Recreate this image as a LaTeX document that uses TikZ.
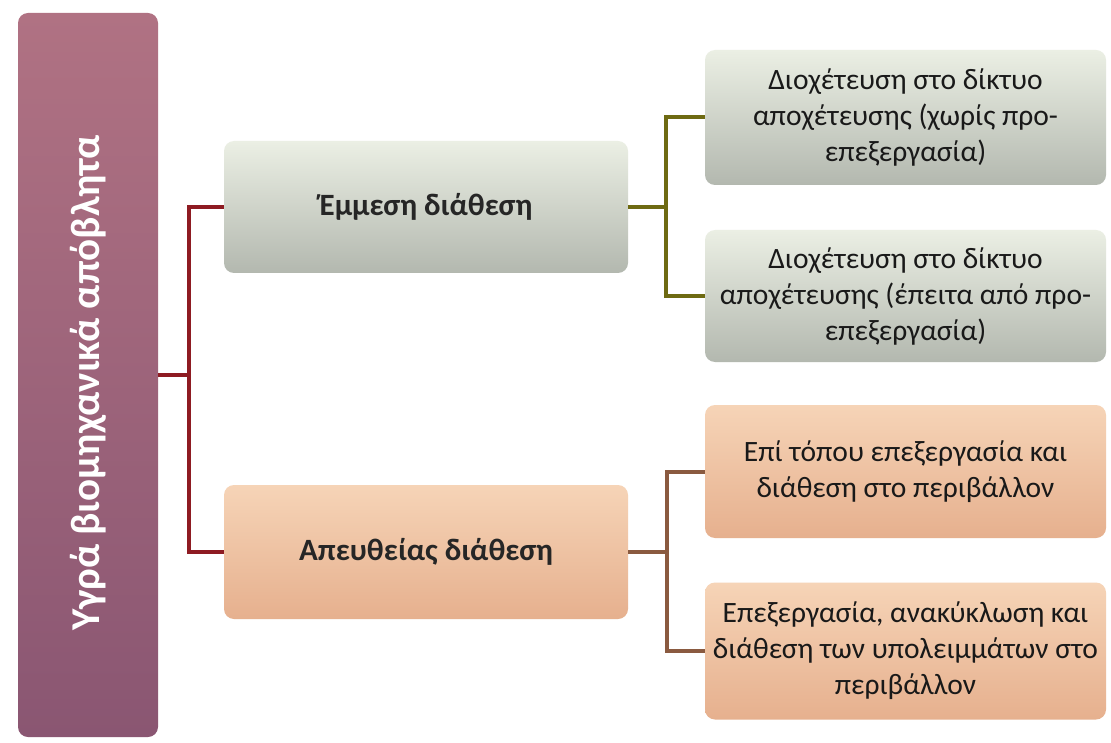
\documentclass[tikz,border=0pt]{standalone}
\usepackage{fontspec}
\setmainfont{Carlito}
\usetikzlibrary{positioning}

\definecolor{rodotop}{HTML}{B07283}
\definecolor{rodobot}{HTML}{8A5672}
\definecolor{grizotop}{HTML}{EBEFE4}
\definecolor{grizobot}{HTML}{B3B8AF}
\definecolor{rodakinotop}{HTML}{F6D4B7}
\definecolor{rodakinobot}{HTML}{E6B08E}
\definecolor{kokkino}{HTML}{8E1B22}
\definecolor{ladi}{HTML}{6E6A12}
\definecolor{kafe}{HTML}{8A5A40}

\begin{document}
\begin{tikzpicture}[
x=1pt, y=-1pt,
  riza/.style = {rectangle, rounded corners=10pt, inner sep=0pt,
                 top color=rodotop, bottom color=rodobot, text=white,
                 minimum width=724pt, minimum height=140pt,
                 font=\fontsize{41}{48}\selectfont\bfseries},
  kladi/.style = {rectangle, rounded corners=10pt, inner sep=0pt,
                 minimum width=404pt, minimum height=132pt,
                 text=black!85, font=\fontsize{31}{38}\selectfont\bfseries},
  fyllo/.style = {rectangle, rounded corners=10pt, inner sep=0pt,
                 minimum width=401pt, align=center, text=black!90,
                 font=\fontsize{29.5}{36}\selectfont},
   gri/.style = {top color=grizotop, bottom color=grizobot},
   ros/.style = {top color=rodakinotop, bottom color=rodakinobot},
   syn/.style = {draw=#1, line width=4pt}
                    ]
\fill[white] (0,0) rectangle (1111,743);

%nodes
\node[riza, rotate=90] (apov) at (88,375) {Υγρά βιομηχανικά απόβλητα\hspace*{16pt}};

\node[kladi,gri] (emmesi) at (426,207) {Έμμεση διάθεση};
\node[kladi,ros,minimum height=134pt] (apeft) at (426,552) {Απευθείας διάθεση};

\node[fyllo,gri,minimum height=135pt] (dx) at (905.5,117.5)
  {Διοχέτευση στο δίκτυο\\αποχέτευσης (χωρίς προ-\\επεξεργασία)};
\node[fyllo,gri,minimum height=132pt] (dm) at (905.5,296)
  {Διοχέτευση στο δίκτυο\\αποχέτευσης (έπειτα από προ-\\επεξεργασία)};
\node[fyllo,ros,minimum height=133pt] (topos) at (905.5,471.5)
  {Επί τόπου επεξεργασία και\\διάθεση στο περιβάλλον};
\node[fyllo,ros,minimum height=137pt] (anak) at (905.5,651)
  {Επεξεργασία, ανακύκλωση και\\διάθεση των υπολειμμάτων στο\\περιβάλλον};

% edges
\draw[syn=kokkino] (apov.south) -- ++(31,0) coordinate (k1)
  (k1) |- (emmesi.west)
  (k1) |- (apeft.west);

\draw[syn=ladi] (emmesi.east) -- ++(38,0) coordinate (k2)
  (k2) |- (dx.west)
  (k2) |- (dm.west);

\draw[syn=kafe] (apeft.east) -- ++(39,0) coordinate (k3)
  (k3) |- (topos.west)
  (k3) |- (anak.west);
\end{tikzpicture}
\end{document}
